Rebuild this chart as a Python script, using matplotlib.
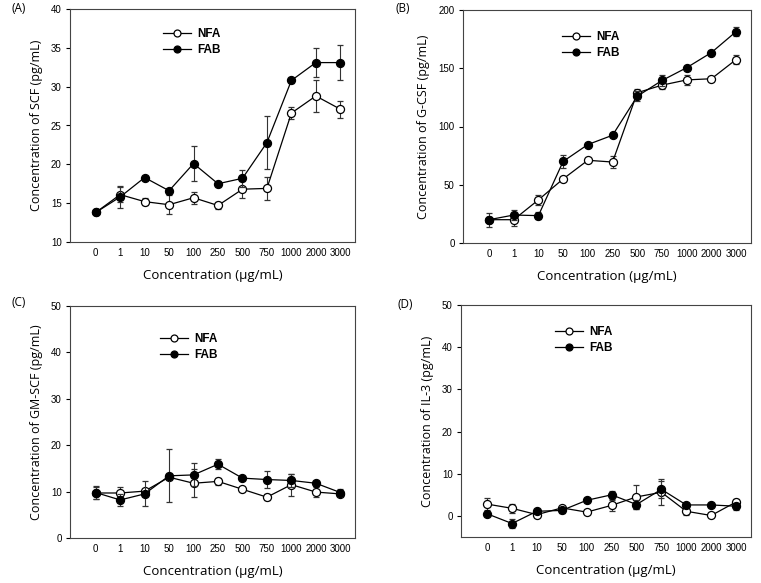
import matplotlib
matplotlib.use("Agg")
import matplotlib.pyplot as plt
from matplotlib.lines import Line2D

categories = ["0", "1", "10", "50", "100", "250", "500", "750", "1000", "2000", "3000"]

# Panel A: SCF
scf_nfa = [13.8, 16.1, 15.2, 14.8, 15.7, 14.7, 16.8, 16.9, 26.6, 28.8, 27.1]
scf_nfa_err = [0.2, 1.0, 0.5, 1.2, 0.8, 0.5, 1.1, 1.5, 0.8, 2.1, 1.1]
scf_fab = [13.8, 15.8, 18.3, 16.6, 20.1, 17.5, 18.2, 22.8, 30.8, 33.1, 33.1]
scf_fab_err = [0.2, 1.4, 0.2, 0.2, 2.2, 0.2, 1.1, 3.4, 0.3, 1.9, 2.3]

# Panel B: G-CSF
gcsf_nfa = [20.0, 20.0, 37.0, 55.0, 71.0, 69.5, 129.0, 135.5, 140.0, 141.0, 157.5]
gcsf_nfa_err = [6.0, 5.0, 4.5, 1.0, 1.0, 5.0, 3.0, 3.5, 4.5, 1.0, 3.5]
gcsf_fab = [20.0, 24.0, 23.5, 70.0, 84.5, 92.5, 126.0, 139.5, 150.5, 163.5, 181.5]
gcsf_fab_err = [2.0, 4.0, 3.0, 5.5, 1.5, 1.5, 4.5, 5.0, 1.5, 1.5, 4.0]

# Panel C: GM-SCF
gm_nfa = [9.7, 9.7, 10.1, 13.1, 11.8, 12.2, 10.5, 8.8, 11.5, 9.9, 9.5]
gm_nfa_err = [1.2, 1.2, 0.5, 0.5, 3.0, 0.7, 0.3, 0.6, 2.4, 1.1, 0.4]
gm_fab = [9.8, 8.2, 9.5, 13.4, 13.6, 15.9, 12.9, 12.6, 12.4, 11.8, 9.8]
gm_fab_err = [1.3, 1.2, 2.7, 5.7, 2.5, 1.1, 0.4, 1.8, 1.4, 0.5, 0.8]

# Panel D: IL-3
il3_nfa = [2.8, 1.8, 0.3, 1.9, 0.9, 2.5, 4.5, 5.6, 1.1, 0.1, 3.3]
il3_nfa_err = [1.5, 1.0, 0.3, 0.3, 0.3, 1.3, 2.8, 3.1, 1.0, 0.3, 0.6]
il3_fab = [0.5, -1.8, 1.1, 1.3, 3.7, 5.0, 2.7, 6.3, 2.6, 2.6, 2.3]
il3_fab_err = [0.3, 1.0, 0.3, 0.5, 0.5, 1.0, 1.0, 2.0, 0.4, 0.3, 0.8]

panels = [
    dict(tag="(A)", tagpos=(12, 8), nfa=scf_nfa, nfe=scf_nfa_err, fab=scf_fab, fbe=scf_fab_err,
         ylabel="Concentration of SCF (pg/mL)", ylim=(10, 40), yticks=[10, 15, 20, 25, 30, 35, 40],
         rect=(70, 9, 355, 242), leg=(0.326, 0.918)),
    dict(tag="(B)", tagpos=(396, 8), nfa=gcsf_nfa, nfe=gcsf_nfa_err, fab=gcsf_fab, fbe=gcsf_fab_err,
         ylabel="Concentration of G-CSF (pg/mL)", ylim=(0, 200), yticks=[0, 50, 100, 150, 200],
         rect=(463, 10, 751, 243), leg=(0.344, 0.91)),
    dict(tag="(C)", tagpos=(12, 303), nfa=gm_nfa, nfe=gm_nfa_err, fab=gm_fab, fbe=gm_fab_err,
         ylabel="Concentration of GM-SCF (pg/mL)", ylim=(0, 50), yticks=[0, 10, 20, 30, 40, 50],
         rect=(70, 306, 355, 538), leg=(0.316, 0.884)),
    dict(tag="(D)", tagpos=(398, 305), nfa=il3_nfa, nfe=il3_nfa_err, fab=il3_fab, fbe=il3_fab_err,
         ylabel="Concentration of IL-3 (pg/mL)", ylim=(-5, 50), yticks=[0, 10, 20, 30, 40, 50],
         rect=(461, 305, 751, 537), leg=(0.324, 0.909)),
]

W, H = 761, 583
fig = plt.figure(figsize=(W / 100, H / 100), dpi=100)

label_font = "Open Sans"
tick_font = "Liberation Sans"

x = list(range(len(categories)))
for p in panels:
    l, t, r, b = p["rect"]
    ax = fig.add_axes([l / W, 1 - b / H, (r - l) / W, (b - t) / H])
    ax.errorbar(x, p["nfa"], yerr=p["nfe"], color="black", lw=0.9, marker="o", ms=5.8,
                mfc="white", mec="black", mew=0.9, capsize=2.5, elinewidth=0.8,
                capthick=0.8, ecolor="#333333", zorder=3)
    ax.errorbar(x, p["fab"], yerr=p["fbe"], color="black", lw=0.9, marker="o", ms=5.8,
                mfc="black", mec="black", mew=0.9, capsize=2.5, elinewidth=0.8,
                capthick=0.8, ecolor="#333333", zorder=4)
    ax.set_xlim(-1.05, 10.6)
    ax.set_ylim(*p["ylim"])
    ax.set_yticks(p["yticks"])
    ax.set_xticks(x)
    ax.set_xticklabels(categories, fontfamily=tick_font, fontsize=7)
    for lab in ax.get_yticklabels():
        lab.set_fontfamily(tick_font)
        lab.set_fontsize(7)
    ax.tick_params(axis="x", length=0, pad=4)
    ax.tick_params(axis="y", length=3, width=0.8, direction="out", pad=3)
    for s in ax.spines.values():
        s.set_linewidth(0.8)
        s.set_color("#444444")
    ax.set_xlabel("Concentration (\u03bcg/mL)", fontfamily=label_font, fontsize=9.5, labelpad=8)
    ax.set_ylabel(p["ylabel"], fontfamily=label_font, fontsize=9, labelpad=6)
    handles = [
        Line2D([], [], color="black", lw=0.9, marker="o", ms=5, mfc="white", mec="black", mew=0.9),
        Line2D([], [], color="black", lw=0.9, marker="o", ms=5, mfc="black", mec="black", mew=0.9),
    ]
    ax.legend(handles, ["NFA", "FAB"], loc="upper left", bbox_to_anchor=p["leg"], frameon=False,
              prop=dict(family="Liberation Sans", weight="bold", size=8.5),
              handlelength=2.4, handletextpad=0.5, labelspacing=0.35,
              borderpad=0, borderaxespad=0)
    tx, ty = p["tagpos"]
    fig.text(tx / W, 1 - ty / H, p["tag"], fontfamily=label_font, fontsize=8.5,
             va="center", ha="left")

fig.savefig("out.png", dpi=100)
